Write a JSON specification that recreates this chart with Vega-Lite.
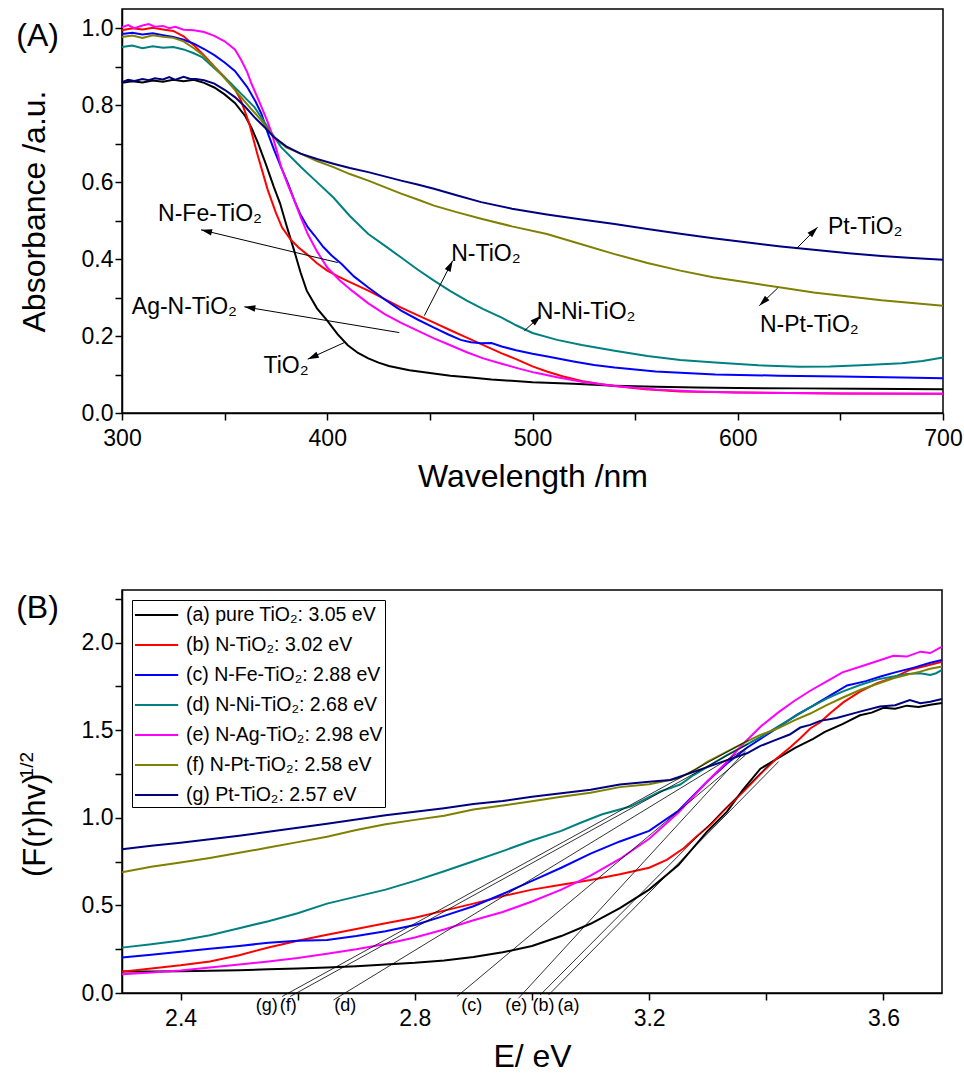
{
"$schema":"https://vega.github.io/schema/vega-lite/v6.json",
"padding":{"left":15,"top":8,"right":5,"bottom":5},
"config":{"font":"Liberation Sans","view":{"stroke":"black","strokeWidth":1.5},
"axis":{"domainColor":"black","tickColor":"black","labelColor":"black","titleColor":"black","grid":false,"labelFontSize":23,"titleFontSize":32,"titleFontWeight":"normal","tickSize":7,"domainWidth":1.5,"tickWidth":1.5,"labelFont":"Liberation Sans","titleFont":"Liberation Sans","labelOverlap":false,"labelFlush":false},
"text":{"font":"Liberation Sans","color":"black"}},
"spacing":94,
"resolve":{"scale":{"color":"independent"},"legend":{"color":"independent"}},
"datasets":{
"A":[
{"s":"TiO2","x":300,"y":0.858},{"s":"TiO2","x":305,"y":0.862},{"s":"TiO2","x":310,"y":0.859},{"s":"TiO2","x":315,"y":0.864},{"s":"TiO2","x":320,"y":0.861},{"s":"TiO2","x":325,"y":0.866},{"s":"TiO2","x":330,"y":0.862},{"s":"TiO2","x":335,"y":0.866},{"s":"TiO2","x":340,"y":0.858},{"s":"TiO2","x":345,"y":0.846},{"s":"TiO2","x":350,"y":0.828},{"s":"TiO2","x":355,"y":0.806},{"s":"TiO2","x":360,"y":0.772},{"s":"TiO2","x":363,"y":0.742},{"s":"TiO2","x":366,"y":0.705},{"s":"TiO2","x":370,"y":0.648},{"s":"TiO2","x":374,"y":0.587},{"s":"TiO2","x":377,"y":0.545},{"s":"TiO2","x":380,"y":0.49},{"s":"TiO2","x":384,"y":0.42},{"s":"TiO2","x":387,"y":0.365},{"s":"TiO2","x":390,"y":0.318},{"s":"TiO2","x":395,"y":0.272},{"s":"TiO2","x":400,"y":0.24},{"s":"TiO2","x":405,"y":0.205},{"s":"TiO2","x":410,"y":0.176},{"s":"TiO2","x":415,"y":0.156},{"s":"TiO2","x":420,"y":0.142},{"s":"TiO2","x":425,"y":0.131},{"s":"TiO2","x":430,"y":0.122},{"s":"TiO2","x":440,"y":0.111},{"s":"TiO2","x":450,"y":0.104},{"s":"TiO2","x":460,"y":0.097},{"s":"TiO2","x":470,"y":0.092},{"s":"TiO2","x":480,"y":0.087},{"s":"TiO2","x":500,"y":0.08},{"s":"TiO2","x":520,"y":0.076},{"s":"TiO2","x":540,"y":0.071},{"s":"TiO2","x":560,"y":0.068},{"s":"TiO2","x":580,"y":0.066},{"s":"TiO2","x":600,"y":0.065},{"s":"TiO2","x":630,"y":0.064},{"s":"TiO2","x":660,"y":0.063},{"s":"TiO2","x":700,"y":0.062},
{"s":"N-TiO2","x":300,"y":0.995},{"s":"N-TiO2","x":305,"y":1.0},{"s":"N-TiO2","x":310,"y":0.997},{"s":"N-TiO2","x":315,"y":1.001},{"s":"N-TiO2","x":320,"y":0.997},{"s":"N-TiO2","x":325,"y":0.993},{"s":"N-TiO2","x":330,"y":0.979},{"s":"N-TiO2","x":335,"y":0.956},{"s":"N-TiO2","x":340,"y":0.929},{"s":"N-TiO2","x":345,"y":0.9},{"s":"N-TiO2","x":350,"y":0.873},{"s":"N-TiO2","x":355,"y":0.842},{"s":"N-TiO2","x":358,"y":0.812},{"s":"N-TiO2","x":362,"y":0.752},{"s":"N-TiO2","x":366,"y":0.672},{"s":"N-TiO2","x":371,"y":0.58},{"s":"N-TiO2","x":375,"y":0.52},{"s":"N-TiO2","x":378,"y":0.482},{"s":"N-TiO2","x":382,"y":0.452},{"s":"N-TiO2","x":386,"y":0.43},{"s":"N-TiO2","x":390,"y":0.413},{"s":"N-TiO2","x":395,"y":0.389},{"s":"N-TiO2","x":400,"y":0.37},{"s":"N-TiO2","x":405,"y":0.356},{"s":"N-TiO2","x":410,"y":0.343},{"s":"N-TiO2","x":420,"y":0.318},{"s":"N-TiO2","x":428,"y":0.296},{"s":"N-TiO2","x":436,"y":0.274},{"s":"N-TiO2","x":445,"y":0.252},{"s":"N-TiO2","x":452,"y":0.235},{"s":"N-TiO2","x":460,"y":0.215},{"s":"N-TiO2","x":468,"y":0.196},{"s":"N-TiO2","x":475,"y":0.179},{"s":"N-TiO2","x":485,"y":0.155},{"s":"N-TiO2","x":492,"y":0.14},{"s":"N-TiO2","x":500,"y":0.121},{"s":"N-TiO2","x":507,"y":0.108},{"s":"N-TiO2","x":515,"y":0.095},{"s":"N-TiO2","x":524,"y":0.083},{"s":"N-TiO2","x":532,"y":0.076},{"s":"N-TiO2","x":540,"y":0.07},{"s":"N-TiO2","x":555,"y":0.062},{"s":"N-TiO2","x":572,"y":0.056},{"s":"N-TiO2","x":600,"y":0.053},{"s":"N-TiO2","x":650,"y":0.051},{"s":"N-TiO2","x":700,"y":0.05},
{"s":"N-Fe-TiO2","x":300,"y":0.985},{"s":"N-Fe-TiO2","x":305,"y":0.988},{"s":"N-Fe-TiO2","x":310,"y":0.984},{"s":"N-Fe-TiO2","x":315,"y":0.987},{"s":"N-Fe-TiO2","x":320,"y":0.982},{"s":"N-Fe-TiO2","x":325,"y":0.977},{"s":"N-Fe-TiO2","x":330,"y":0.97},{"s":"N-Fe-TiO2","x":335,"y":0.96},{"s":"N-Fe-TiO2","x":340,"y":0.946},{"s":"N-Fe-TiO2","x":345,"y":0.93},{"s":"N-Fe-TiO2","x":350,"y":0.911},{"s":"N-Fe-TiO2","x":355,"y":0.889},{"s":"N-Fe-TiO2","x":361,"y":0.847},{"s":"N-Fe-TiO2","x":365,"y":0.81},{"s":"N-Fe-TiO2","x":368,"y":0.777},{"s":"N-Fe-TiO2","x":371,"y":0.728},{"s":"N-Fe-TiO2","x":374,"y":0.685},{"s":"N-Fe-TiO2","x":377.5,"y":0.639},{"s":"N-Fe-TiO2","x":381,"y":0.595},{"s":"N-Fe-TiO2","x":384,"y":0.552},{"s":"N-Fe-TiO2","x":387,"y":0.515},{"s":"N-Fe-TiO2","x":390.5,"y":0.483},{"s":"N-Fe-TiO2","x":394,"y":0.46},{"s":"N-Fe-TiO2","x":398,"y":0.432},{"s":"N-Fe-TiO2","x":402,"y":0.41},{"s":"N-Fe-TiO2","x":407,"y":0.387},{"s":"N-Fe-TiO2","x":413,"y":0.355},{"s":"N-Fe-TiO2","x":420,"y":0.326},{"s":"N-Fe-TiO2","x":428,"y":0.295},{"s":"N-Fe-TiO2","x":436,"y":0.266},{"s":"N-Fe-TiO2","x":444,"y":0.243},{"s":"N-Fe-TiO2","x":452,"y":0.222},{"s":"N-Fe-TiO2","x":459,"y":0.204},{"s":"N-Fe-TiO2","x":465,"y":0.19},{"s":"N-Fe-TiO2","x":470,"y":0.184},{"s":"N-Fe-TiO2","x":475,"y":0.181},{"s":"N-Fe-TiO2","x":480,"y":0.182},{"s":"N-Fe-TiO2","x":485,"y":0.173},{"s":"N-Fe-TiO2","x":492,"y":0.163},{"s":"N-Fe-TiO2","x":500,"y":0.154},{"s":"N-Fe-TiO2","x":508,"y":0.146},{"s":"N-Fe-TiO2","x":520,"y":0.134},{"s":"N-Fe-TiO2","x":530,"y":0.125},{"s":"N-Fe-TiO2","x":540,"y":0.118},{"s":"N-Fe-TiO2","x":560,"y":0.108},{"s":"N-Fe-TiO2","x":589,"y":0.1},{"s":"N-Fe-TiO2","x":620,"y":0.097},{"s":"N-Fe-TiO2","x":650,"y":0.095},{"s":"N-Fe-TiO2","x":680,"y":0.092},{"s":"N-Fe-TiO2","x":700,"y":0.09},
{"s":"N-Ni-TiO2","x":300,"y":0.951},{"s":"N-Ni-TiO2","x":305,"y":0.955},{"s":"N-Ni-TiO2","x":310,"y":0.948},{"s":"N-Ni-TiO2","x":315,"y":0.953},{"s":"N-Ni-TiO2","x":320,"y":0.949},{"s":"N-Ni-TiO2","x":325,"y":0.951},{"s":"N-Ni-TiO2","x":330,"y":0.945},{"s":"N-Ni-TiO2","x":335,"y":0.935},{"s":"N-Ni-TiO2","x":339,"y":0.925},{"s":"N-Ni-TiO2","x":343,"y":0.906},{"s":"N-Ni-TiO2","x":348,"y":0.882},{"s":"N-Ni-TiO2","x":353,"y":0.857},{"s":"N-Ni-TiO2","x":358,"y":0.83},{"s":"N-Ni-TiO2","x":364.5,"y":0.795},{"s":"N-Ni-TiO2","x":371,"y":0.743},{"s":"N-Ni-TiO2","x":377.5,"y":0.691},{"s":"N-Ni-TiO2","x":387,"y":0.64},{"s":"N-Ni-TiO2","x":395,"y":0.6},{"s":"N-Ni-TiO2","x":403,"y":0.56},{"s":"N-Ni-TiO2","x":411,"y":0.512},{"s":"N-Ni-TiO2","x":420,"y":0.465},{"s":"N-Ni-TiO2","x":428,"y":0.435},{"s":"N-Ni-TiO2","x":436,"y":0.404},{"s":"N-Ni-TiO2","x":444,"y":0.373},{"s":"N-Ni-TiO2","x":452,"y":0.344},{"s":"N-Ni-TiO2","x":460,"y":0.317},{"s":"N-Ni-TiO2","x":468,"y":0.292},{"s":"N-Ni-TiO2","x":476,"y":0.27},{"s":"N-Ni-TiO2","x":485,"y":0.248},{"s":"N-Ni-TiO2","x":492,"y":0.228},{"s":"N-Ni-TiO2","x":500,"y":0.208},{"s":"N-Ni-TiO2","x":512,"y":0.19},{"s":"N-Ni-TiO2","x":524,"y":0.177},{"s":"N-Ni-TiO2","x":540,"y":0.162},{"s":"N-Ni-TiO2","x":556,"y":0.148},{"s":"N-Ni-TiO2","x":572,"y":0.138},{"s":"N-Ni-TiO2","x":589,"y":0.131},{"s":"N-Ni-TiO2","x":610,"y":0.124},{"s":"N-Ni-TiO2","x":630,"y":0.12},{"s":"N-Ni-TiO2","x":645,"y":0.121},{"s":"N-Ni-TiO2","x":660,"y":0.124},{"s":"N-Ni-TiO2","x":680,"y":0.129},{"s":"N-Ni-TiO2","x":690,"y":0.135},{"s":"N-Ni-TiO2","x":700,"y":0.144},
{"s":"Ag-N-TiO2","x":300,"y":1.003},{"s":"Ag-N-TiO2","x":303,"y":1.008},{"s":"Ag-N-TiO2","x":306,"y":1.0},{"s":"Ag-N-TiO2","x":310,"y":1.007},{"s":"Ag-N-TiO2","x":313,"y":1.011},{"s":"Ag-N-TiO2","x":316,"y":1.004},{"s":"Ag-N-TiO2","x":320,"y":1.006},{"s":"Ag-N-TiO2","x":323,"y":1.0},{"s":"Ag-N-TiO2","x":326,"y":1.004},{"s":"Ag-N-TiO2","x":330,"y":0.996},{"s":"Ag-N-TiO2","x":335,"y":0.995},{"s":"Ag-N-TiO2","x":340,"y":0.99},{"s":"Ag-N-TiO2","x":345,"y":0.98},{"s":"Ag-N-TiO2","x":350,"y":0.966},{"s":"Ag-N-TiO2","x":355,"y":0.945},{"s":"Ag-N-TiO2","x":358,"y":0.918},{"s":"Ag-N-TiO2","x":361,"y":0.886},{"s":"Ag-N-TiO2","x":363,"y":0.857},{"s":"Ag-N-TiO2","x":366,"y":0.82},{"s":"Ag-N-TiO2","x":368,"y":0.795},{"s":"Ag-N-TiO2","x":371,"y":0.756},{"s":"Ag-N-TiO2","x":373,"y":0.726},{"s":"Ag-N-TiO2","x":375.5,"y":0.68},{"s":"Ag-N-TiO2","x":377.5,"y":0.64},{"s":"Ag-N-TiO2","x":381,"y":0.59},{"s":"Ag-N-TiO2","x":384,"y":0.552},{"s":"Ag-N-TiO2","x":387,"y":0.51},{"s":"Ag-N-TiO2","x":390.5,"y":0.465},{"s":"Ag-N-TiO2","x":395,"y":0.42},{"s":"Ag-N-TiO2","x":400,"y":0.378},{"s":"Ag-N-TiO2","x":406,"y":0.345},{"s":"Ag-N-TiO2","x":412,"y":0.318},{"s":"Ag-N-TiO2","x":420,"y":0.285},{"s":"Ag-N-TiO2","x":428,"y":0.257},{"s":"Ag-N-TiO2","x":436,"y":0.234},{"s":"Ag-N-TiO2","x":444,"y":0.214},{"s":"Ag-N-TiO2","x":452,"y":0.194},{"s":"Ag-N-TiO2","x":460,"y":0.176},{"s":"Ag-N-TiO2","x":468,"y":0.158},{"s":"Ag-N-TiO2","x":476,"y":0.142},{"s":"Ag-N-TiO2","x":485,"y":0.128},{"s":"Ag-N-TiO2","x":493,"y":0.116},{"s":"Ag-N-TiO2","x":501,"y":0.105},{"s":"Ag-N-TiO2","x":512,"y":0.093},{"s":"Ag-N-TiO2","x":524,"y":0.081},{"s":"Ag-N-TiO2","x":540,"y":0.07},{"s":"Ag-N-TiO2","x":560,"y":0.061},{"s":"Ag-N-TiO2","x":580,"y":0.056},{"s":"Ag-N-TiO2","x":600,"y":0.053},{"s":"Ag-N-TiO2","x":650,"y":0.051},{"s":"Ag-N-TiO2","x":700,"y":0.05},
{"s":"N-Pt-TiO2","x":300,"y":0.977},{"s":"N-Pt-TiO2","x":305,"y":0.981},{"s":"N-Pt-TiO2","x":310,"y":0.975},{"s":"N-Pt-TiO2","x":315,"y":0.982},{"s":"N-Pt-TiO2","x":320,"y":0.978},{"s":"N-Pt-TiO2","x":325,"y":0.975},{"s":"N-Pt-TiO2","x":330,"y":0.966},{"s":"N-Pt-TiO2","x":335,"y":0.948},{"s":"N-Pt-TiO2","x":339,"y":0.932},{"s":"N-Pt-TiO2","x":343,"y":0.91},{"s":"N-Pt-TiO2","x":348,"y":0.882},{"s":"N-Pt-TiO2","x":353,"y":0.852},{"s":"N-Pt-TiO2","x":358,"y":0.821},{"s":"N-Pt-TiO2","x":363,"y":0.79},{"s":"N-Pt-TiO2","x":368,"y":0.76},{"s":"N-Pt-TiO2","x":374,"y":0.717},{"s":"N-Pt-TiO2","x":380,"y":0.69},{"s":"N-Pt-TiO2","x":387,"y":0.674},{"s":"N-Pt-TiO2","x":395,"y":0.655},{"s":"N-Pt-TiO2","x":403,"y":0.639},{"s":"N-Pt-TiO2","x":411,"y":0.621},{"s":"N-Pt-TiO2","x":420,"y":0.604},{"s":"N-Pt-TiO2","x":428,"y":0.587},{"s":"N-Pt-TiO2","x":436,"y":0.57},{"s":"N-Pt-TiO2","x":444,"y":0.555},{"s":"N-Pt-TiO2","x":452,"y":0.539},{"s":"N-Pt-TiO2","x":463,"y":0.522},{"s":"N-Pt-TiO2","x":475,"y":0.505},{"s":"N-Pt-TiO2","x":490,"y":0.485},{"s":"N-Pt-TiO2","x":507,"y":0.465},{"s":"N-Pt-TiO2","x":523,"y":0.44},{"s":"N-Pt-TiO2","x":540,"y":0.413},{"s":"N-Pt-TiO2","x":556,"y":0.39},{"s":"N-Pt-TiO2","x":572,"y":0.37},{"s":"N-Pt-TiO2","x":588,"y":0.353},{"s":"N-Pt-TiO2","x":605,"y":0.339},{"s":"N-Pt-TiO2","x":621,"y":0.326},{"s":"N-Pt-TiO2","x":637,"y":0.313},{"s":"N-Pt-TiO2","x":654,"y":0.303},{"s":"N-Pt-TiO2","x":670,"y":0.293},{"s":"N-Pt-TiO2","x":685,"y":0.286},{"s":"N-Pt-TiO2","x":700,"y":0.279},
{"s":"Pt-TiO2","x":300,"y":0.86},{"s":"Pt-TiO2","x":303,"y":0.866},{"s":"Pt-TiO2","x":306,"y":0.863},{"s":"Pt-TiO2","x":310,"y":0.868},{"s":"Pt-TiO2","x":313,"y":0.865},{"s":"Pt-TiO2","x":316,"y":0.87},{"s":"Pt-TiO2","x":320,"y":0.867},{"s":"Pt-TiO2","x":323,"y":0.873},{"s":"Pt-TiO2","x":326,"y":0.866},{"s":"Pt-TiO2","x":330,"y":0.874},{"s":"Pt-TiO2","x":333,"y":0.869},{"s":"Pt-TiO2","x":336,"y":0.868},{"s":"Pt-TiO2","x":340,"y":0.865},{"s":"Pt-TiO2","x":345,"y":0.856},{"s":"Pt-TiO2","x":350,"y":0.84},{"s":"Pt-TiO2","x":355,"y":0.821},{"s":"Pt-TiO2","x":360,"y":0.796},{"s":"Pt-TiO2","x":364.5,"y":0.769},{"s":"Pt-TiO2","x":370,"y":0.74},{"s":"Pt-TiO2","x":374,"y":0.717},{"s":"Pt-TiO2","x":380,"y":0.693},{"s":"Pt-TiO2","x":387,"y":0.674},{"s":"Pt-TiO2","x":395,"y":0.66},{"s":"Pt-TiO2","x":403,"y":0.648},{"s":"Pt-TiO2","x":411,"y":0.637},{"s":"Pt-TiO2","x":420,"y":0.626},{"s":"Pt-TiO2","x":428,"y":0.615},{"s":"Pt-TiO2","x":436,"y":0.604},{"s":"Pt-TiO2","x":444,"y":0.594},{"s":"Pt-TiO2","x":452,"y":0.583},{"s":"Pt-TiO2","x":463,"y":0.566},{"s":"Pt-TiO2","x":475,"y":0.548},{"s":"Pt-TiO2","x":490,"y":0.531},{"s":"Pt-TiO2","x":507,"y":0.516},{"s":"Pt-TiO2","x":524,"y":0.503},{"s":"Pt-TiO2","x":540,"y":0.491},{"s":"Pt-TiO2","x":556,"y":0.478},{"s":"Pt-TiO2","x":572,"y":0.466},{"s":"Pt-TiO2","x":588,"y":0.454},{"s":"Pt-TiO2","x":605,"y":0.443},{"s":"Pt-TiO2","x":621,"y":0.433},{"s":"Pt-TiO2","x":637,"y":0.424},{"s":"Pt-TiO2","x":654,"y":0.415},{"s":"Pt-TiO2","x":670,"y":0.408},{"s":"Pt-TiO2","x":685,"y":0.403},{"s":"Pt-TiO2","x":700,"y":0.398}
],
"arrowsA":[
{"x":338.5,"y":0.476,"x2":405.1,"y2":0.391,"a":283},
{"x":359.6,"y":0.276,"x2":435.1,"y2":0.209,"a":279},
{"x":390.5,"y":0.14,"x2":408.3,"y2":0.183,"a":246},
{"x":461.1,"y":0.396,"x2":447.3,"y2":0.253,"a":27},
{"x":504.1,"y":0.253,"x2":496,"y2":0.2135,"a":48},
{"x":638.9,"y":0.483,"x2":628.4,"y2":0.426,"a":45},
{"x":610.5,"y":0.279,"x2":619.5,"y2":0.325,"a":226}
],
"labelsA":[
{"t":"N-Fe-TiO₂","x":342.9,"y":0.5},
{"t":"Ag-N-TiO₂","x":330.4,"y":0.257},
{"t":"TiO₂","x":379.9,"y":0.105},
{"t":"N-TiO₂","x":477.3,"y":0.396},
{"t":"N-Ni-TiO₂","x":526.1,"y":0.244},
{"t":"Pt-TiO₂","x":662.1,"y":0.465},
{"t":"N-Pt-TiO₂","x":634.9,"y":0.211}
],
"B":[
{"s":"a","x":2.3,"y":0.122},{"s":"a","x":2.35,"y":0.123},{"s":"a","x":2.4,"y":0.124},{"s":"a","x":2.45,"y":0.127},{"s":"a","x":2.5,"y":0.13},{"s":"a","x":2.55,"y":0.135},{"s":"a","x":2.6,"y":0.14},{"s":"a","x":2.65,"y":0.146},{"s":"a","x":2.7,"y":0.153},{"s":"a","x":2.75,"y":0.162},{"s":"a","x":2.8,"y":0.172},{"s":"a","x":2.85,"y":0.186},{"s":"a","x":2.9,"y":0.205},{"s":"a","x":2.95,"y":0.232},{"s":"a","x":3.0,"y":0.268},{"s":"a","x":3.05,"y":0.325},{"s":"a","x":3.1,"y":0.395},{"s":"a","x":3.15,"y":0.485},{"s":"a","x":3.2,"y":0.59},{"s":"a","x":3.25,"y":0.73},{"s":"a","x":3.3,"y":0.925},{"s":"a","x":3.333,"y":1.035},{"s":"a","x":3.36,"y":1.16},{"s":"a","x":3.39,"y":1.28},{"s":"a","x":3.42,"y":1.34},{"s":"a","x":3.45,"y":1.4},{"s":"a","x":3.48,"y":1.45},{"s":"a","x":3.5,"y":1.49},{"s":"a","x":3.53,"y":1.535},{"s":"a","x":3.56,"y":1.585},{"s":"a","x":3.58,"y":1.6},{"s":"a","x":3.6,"y":1.628},{"s":"a","x":3.62,"y":1.622},{"s":"a","x":3.64,"y":1.64},{"s":"a","x":3.66,"y":1.632},{"s":"a","x":3.68,"y":1.645},{"s":"a","x":3.7,"y":1.655},
{"s":"b","x":2.3,"y":0.122},{"s":"b","x":2.35,"y":0.14},{"s":"b","x":2.4,"y":0.158},{"s":"b","x":2.45,"y":0.18},{"s":"b","x":2.5,"y":0.215},{"s":"b","x":2.55,"y":0.26},{"s":"b","x":2.6,"y":0.298},{"s":"b","x":2.65,"y":0.332},{"s":"b","x":2.7,"y":0.365},{"s":"b","x":2.75,"y":0.398},{"s":"b","x":2.8,"y":0.43},{"s":"b","x":2.85,"y":0.47},{"s":"b","x":2.9,"y":0.51},{"s":"b","x":2.95,"y":0.553},{"s":"b","x":3.0,"y":0.59},{"s":"b","x":3.05,"y":0.618},{"s":"b","x":3.1,"y":0.645},{"s":"b","x":3.15,"y":0.678},{"s":"b","x":3.2,"y":0.715},{"s":"b","x":3.23,"y":0.76},{"s":"b","x":3.259,"y":0.826},{"s":"b","x":3.28,"y":0.89},{"s":"b","x":3.304,"y":0.959},{"s":"b","x":3.33,"y":1.05},{"s":"b","x":3.361,"y":1.15},{"s":"b","x":3.39,"y":1.25},{"s":"b","x":3.418,"y":1.34},{"s":"b","x":3.44,"y":1.4},{"s":"b","x":3.458,"y":1.454},{"s":"b","x":3.475,"y":1.51},{"s":"b","x":3.492,"y":1.545},{"s":"b","x":3.51,"y":1.6},{"s":"b","x":3.532,"y":1.66},{"s":"b","x":3.56,"y":1.72},{"s":"b","x":3.589,"y":1.768},{"s":"b","x":3.617,"y":1.8},{"s":"b","x":3.645,"y":1.844},{"s":"b","x":3.67,"y":1.865},{"s":"b","x":3.7,"y":1.89},
{"s":"c","x":2.3,"y":0.202},{"s":"c","x":2.35,"y":0.218},{"s":"c","x":2.4,"y":0.235},{"s":"c","x":2.45,"y":0.252},{"s":"c","x":2.5,"y":0.268},{"s":"c","x":2.55,"y":0.287},{"s":"c","x":2.6,"y":0.298},{"s":"c","x":2.65,"y":0.303},{"s":"c","x":2.7,"y":0.325},{"s":"c","x":2.75,"y":0.352},{"s":"c","x":2.8,"y":0.388},{"s":"c","x":2.85,"y":0.44},{"s":"c","x":2.9,"y":0.495},{"s":"c","x":2.95,"y":0.565},{"s":"c","x":3.0,"y":0.64},{"s":"c","x":3.05,"y":0.715},{"s":"c","x":3.1,"y":0.795},{"s":"c","x":3.15,"y":0.865},{"s":"c","x":3.2,"y":0.925},{"s":"c","x":3.25,"y":1.04},{"s":"c","x":3.3,"y":1.21},{"s":"c","x":3.333,"y":1.31},{"s":"c","x":3.367,"y":1.4},{"s":"c","x":3.413,"y":1.5},{"s":"c","x":3.452,"y":1.587},{"s":"c","x":3.48,"y":1.64},{"s":"c","x":3.51,"y":1.7},{"s":"c","x":3.538,"y":1.755},{"s":"c","x":3.57,"y":1.78},{"s":"c","x":3.595,"y":1.806},{"s":"c","x":3.62,"y":1.83},{"s":"c","x":3.652,"y":1.857},{"s":"c","x":3.68,"y":1.885},{"s":"c","x":3.7,"y":1.9},
{"s":"d","x":2.3,"y":0.259},{"s":"d","x":2.35,"y":0.278},{"s":"d","x":2.4,"y":0.3},{"s":"d","x":2.45,"y":0.33},{"s":"d","x":2.5,"y":0.37},{"s":"d","x":2.55,"y":0.41},{"s":"d","x":2.6,"y":0.455},{"s":"d","x":2.65,"y":0.51},{"s":"d","x":2.7,"y":0.55},{"s":"d","x":2.75,"y":0.59},{"s":"d","x":2.8,"y":0.64},{"s":"d","x":2.85,"y":0.695},{"s":"d","x":2.9,"y":0.752},{"s":"d","x":2.95,"y":0.81},{"s":"d","x":3.0,"y":0.87},{"s":"d","x":3.05,"y":0.925},{"s":"d","x":3.082,"y":0.97},{"s":"d","x":3.12,"y":1.02},{"s":"d","x":3.168,"y":1.064},{"s":"d","x":3.219,"y":1.15},{"s":"d","x":3.253,"y":1.19},{"s":"d","x":3.276,"y":1.244},{"s":"d","x":3.333,"y":1.358},{"s":"d","x":3.39,"y":1.46},{"s":"d","x":3.447,"y":1.575},{"s":"d","x":3.475,"y":1.63},{"s":"d","x":3.504,"y":1.682},{"s":"d","x":3.53,"y":1.72},{"s":"d","x":3.56,"y":1.758},{"s":"d","x":3.59,"y":1.79},{"s":"d","x":3.617,"y":1.806},{"s":"d","x":3.64,"y":1.82},{"s":"d","x":3.663,"y":1.825},{"s":"d","x":3.68,"y":1.815},{"s":"d","x":3.69,"y":1.825},{"s":"d","x":3.7,"y":1.844},
{"s":"e","x":2.3,"y":0.107},{"s":"e","x":2.35,"y":0.117},{"s":"e","x":2.4,"y":0.129},{"s":"e","x":2.45,"y":0.145},{"s":"e","x":2.5,"y":0.162},{"s":"e","x":2.55,"y":0.18},{"s":"e","x":2.6,"y":0.2},{"s":"e","x":2.65,"y":0.224},{"s":"e","x":2.7,"y":0.25},{"s":"e","x":2.75,"y":0.28},{"s":"e","x":2.8,"y":0.317},{"s":"e","x":2.85,"y":0.362},{"s":"e","x":2.9,"y":0.415},{"s":"e","x":2.95,"y":0.462},{"s":"e","x":3.0,"y":0.522},{"s":"e","x":3.05,"y":0.59},{"s":"e","x":3.1,"y":0.67},{"s":"e","x":3.15,"y":0.765},{"s":"e","x":3.2,"y":0.88},{"s":"e","x":3.25,"y":1.03},{"s":"e","x":3.3,"y":1.21},{"s":"e","x":3.333,"y":1.32},{"s":"e","x":3.36,"y":1.42},{"s":"e","x":3.39,"y":1.52},{"s":"e","x":3.42,"y":1.6},{"s":"e","x":3.447,"y":1.665},{"s":"e","x":3.475,"y":1.725},{"s":"e","x":3.504,"y":1.78},{"s":"e","x":3.53,"y":1.83},{"s":"e","x":3.56,"y":1.862},{"s":"e","x":3.59,"y":1.895},{"s":"e","x":3.617,"y":1.925},{"s":"e","x":3.64,"y":1.92},{"s":"e","x":3.663,"y":1.948},{"s":"e","x":3.68,"y":1.94},{"s":"e","x":3.7,"y":1.977},
{"s":"f","x":2.3,"y":0.689},{"s":"f","x":2.35,"y":0.72},{"s":"f","x":2.4,"y":0.745},{"s":"f","x":2.45,"y":0.771},{"s":"f","x":2.5,"y":0.8},{"s":"f","x":2.55,"y":0.83},{"s":"f","x":2.6,"y":0.861},{"s":"f","x":2.65,"y":0.892},{"s":"f","x":2.7,"y":0.93},{"s":"f","x":2.75,"y":0.963},{"s":"f","x":2.8,"y":0.988},{"s":"f","x":2.85,"y":1.012},{"s":"f","x":2.9,"y":1.047},{"s":"f","x":2.95,"y":1.07},{"s":"f","x":3.0,"y":1.095},{"s":"f","x":3.05,"y":1.12},{"s":"f","x":3.1,"y":1.143},{"s":"f","x":3.15,"y":1.175},{"s":"f","x":3.2,"y":1.192},{"s":"f","x":3.25,"y":1.225},{"s":"f","x":3.276,"y":1.27},{"s":"f","x":3.3,"y":1.32},{"s":"f","x":3.333,"y":1.378},{"s":"f","x":3.36,"y":1.425},{"s":"f","x":3.39,"y":1.473},{"s":"f","x":3.42,"y":1.51},{"s":"f","x":3.447,"y":1.555},{"s":"f","x":3.475,"y":1.595},{"s":"f","x":3.504,"y":1.644},{"s":"f","x":3.53,"y":1.685},{"s":"f","x":3.56,"y":1.729},{"s":"f","x":3.59,"y":1.765},{"s":"f","x":3.617,"y":1.796},{"s":"f","x":3.645,"y":1.82},{"s":"f","x":3.663,"y":1.834},{"s":"f","x":3.68,"y":1.85},{"s":"f","x":3.7,"y":1.863},
{"s":"g","x":2.3,"y":0.82},{"s":"g","x":2.35,"y":0.84},{"s":"g","x":2.4,"y":0.858},{"s":"g","x":2.45,"y":0.877},{"s":"g","x":2.5,"y":0.897},{"s":"g","x":2.55,"y":0.92},{"s":"g","x":2.6,"y":0.943},{"s":"g","x":2.65,"y":0.966},{"s":"g","x":2.7,"y":0.99},{"s":"g","x":2.75,"y":1.014},{"s":"g","x":2.8,"y":1.035},{"s":"g","x":2.85,"y":1.055},{"s":"g","x":2.9,"y":1.078},{"s":"g","x":2.95,"y":1.096},{"s":"g","x":3.0,"y":1.12},{"s":"g","x":3.05,"y":1.14},{"s":"g","x":3.1,"y":1.16},{"s":"g","x":3.15,"y":1.19},{"s":"g","x":3.2,"y":1.205},{"s":"g","x":3.236,"y":1.216},{"s":"g","x":3.276,"y":1.262},{"s":"g","x":3.321,"y":1.315},{"s":"g","x":3.367,"y":1.368},{"s":"g","x":3.39,"y":1.41},{"s":"g","x":3.413,"y":1.44},{"s":"g","x":3.44,"y":1.475},{"s":"g","x":3.458,"y":1.515},{"s":"g","x":3.475,"y":1.53},{"s":"g","x":3.492,"y":1.553},{"s":"g","x":3.52,"y":1.57},{"s":"g","x":3.56,"y":1.606},{"s":"g","x":3.594,"y":1.635},{"s":"g","x":3.62,"y":1.642},{"s":"g","x":3.645,"y":1.672},{"s":"g","x":3.663,"y":1.654},{"s":"g","x":3.68,"y":1.662},{"s":"g","x":3.7,"y":1.678}
],
"tangents":[
{"k":"g","x":2.5734,"y":-0.02},{"k":"g","x":3.3693,"y":1.4424},
{"k":"f","x":2.5871,"y":-0.02},{"k":"f","x":3.3693,"y":1.4224},
{"k":"d","x":2.6611,"y":-0.04},{"k":"d","x":3.3693,"y":1.405},
{"k":"c","x":2.8718,"y":-0.02},{"k":"c","x":3.3642,"y":1.357},
{"k":"e","x":2.977,"y":-0.03},{"k":"e","x":3.3642,"y":1.38},
{"k":"b","x":3.0141,"y":-0.011},{"k":"b","x":3.4103,"y":1.3225},
{"k":"a","x":3.0283,"y":-0.011},{"k":"a","x":3.4211,"y":1.3208}
],
"tanLabels":[
{"t":"(g)","x":2.547,"y":-0.076},{"t":"(f)","x":2.584,"y":-0.076},{"t":"(d)","x":2.681,"y":-0.076},{"t":"(c)","x":2.897,"y":-0.076},{"t":"(e)","x":2.973,"y":-0.076},{"t":"(b)","x":3.0197,"y":-0.076},{"t":"(a)","x":3.0624,"y":-0.076}
]
},
"vconcat":[
{
"width":821,"height":404,
"encoding":{
"x":{"field":"x","type":"quantitative","scale":{"domain":[300,700],"nice":false,"zero":false},
"axis":{"title":"Wavelength /nm","values":[300,350,400,450,500,550,600,650,700],"labelExpr":"datum.value % 100 == 0 ? datum.label : ''","labelPadding":7,"titlePadding":11}},
"y":{"field":"y","type":"quantitative","scale":{"domain":[0,1.05],"nice":false,"zero":false},
"axis":{"title":"Absorbance /a.u.","values":[0,0.1,0.2,0.3,0.4,0.5,0.6,0.7,0.8,0.9,1.0],"labelExpr":"round(datum.value*10) % 2 == 0 ? format(datum.value, '.1f') : ''","labelPadding":2,"titlePadding":30}}
},
"layer":[
{"data":{"name":"A"},"mark":{"type":"line","strokeWidth":2},
"encoding":{"color":{"field":"s","type":"nominal","scale":{"domain":["TiO2","N-TiO2","N-Fe-TiO2","N-Ni-TiO2","Ag-N-TiO2","N-Pt-TiO2","Pt-TiO2"],"range":["#000000","#ff0000","#0000ff","#008080","#ff00ff","#808000","#000080"]},"legend":null}}},
{"data":{"name":"arrowsA"},"mark":{"type":"rule","color":"black","strokeWidth":1},
"encoding":{"x2":{"field":"x2"},"y2":{"field":"y2"}}},
{"data":{"name":"arrowsA"},"mark":{"type":"point","shape":"M0,0L0.65,2.2L-0.65,2.2Z","filled":true,"color":"black","size":100,"opacity":1},
"encoding":{"angle":{"field":"a","type":"quantitative","scale":null}}},
{"data":{"name":"labelsA"},"mark":{"type":"text","fontSize":23,"align":"center","baseline":"alphabetic"},
"encoding":{"text":{"field":"t"}}},
{"data":{"values":[{"t":"(A)","x":258.9,"y":0.979}]},"mark":{"type":"text","fontSize":32,"align":"center","baseline":"middle"},
"encoding":{"text":{"field":"t"}}}
]
},
{
"width":820,"height":403,
"encoding":{
"x":{"field":"x","type":"quantitative","scale":{"domain":[2.3,3.7],"nice":false,"zero":false},
"axis":{"title":"E/ eV","values":[2.4,2.6,2.8,3.0,3.2,3.4,3.6],"labelExpr":"abs(round(datum.value*10) % 4) == 0 ? format(datum.value, '.1f') : ''","labelPadding":7,"titlePadding":11}},
"y":{"field":"y","type":"quantitative","scale":{"domain":[0,2.3],"nice":false,"zero":false},
"axis":{"title":null,"values":[0,0.25,0.5,0.75,1.0,1.25,1.5,1.75,2.0,2.25],"labelExpr":"round(datum.value*2) == datum.value*2 ? format(datum.value, '.1f') : ''","labelPadding":2}}
},
"layer":[
{"data":{"name":"B"},"mark":{"type":"line","strokeWidth":2},
"encoding":{"color":{"field":"s","type":"nominal","scale":{"domain":["a","b","c","d","e","f","g"],"range":["#000000","#ff0000","#0000ff","#008080","#ff00ff","#808000","#000080"]},
"legend":{"title":null,"orient":"top-left","offset":10,"symbolType":"M-1,0H2.6","symbolSize":576,"symbolStrokeWidth":2,"labelFontSize":19.5,"labelFont":"Liberation Sans","labelColor":"black","padding":2,"rowPadding":7,"labelOffset":26,"strokeColor":"black","fillColor":"white","labelLimit":400,
"labelExpr":"{'a':'(a) pure TiO₂: 3.05 eV','b':'(b) N-TiO₂: 3.02 eV','c':'(c) N-Fe-TiO₂: 2.88 eV','d':'(d) N-Ni-TiO₂: 2.68 eV','e':'(e) N-Ag-TiO₂: 2.98 eV','f':'(f) N-Pt-TiO₂: 2.58 eV','g':'(g) Pt-TiO₂: 2.57 eV'}[datum.label]"}}}},
{"data":{"name":"tangents"},"mark":{"type":"line","color":"black","strokeWidth":0.8},
"encoding":{"detail":{"field":"k"}}},
{"data":{"name":"tanLabels"},"mark":{"type":"text","fontSize":18,"align":"center","baseline":"middle"},
"encoding":{"text":{"field":"t"}}},
{"data":{"values":[{"t":"(B)","x":2.1558,"y":2.2}]},"mark":{"type":"text","fontSize":32,"align":"center","baseline":"middle"},
"encoding":{"text":{"field":"t"}}},
{"data":{"values":[{"t":"(F(r)hv)","x":2.1533,"y":0.957}]},"mark":{"type":"text","fontSize":31,"align":"center","baseline":"middle","angle":270},
"encoding":{"text":{"field":"t"}}},
{"data":{"values":[{"t":"1/2","x":2.1379,"y":1.3}]},"mark":{"type":"text","fontSize":19,"align":"center","baseline":"middle","angle":270},
"encoding":{"text":{"field":"t"}}}
]
}
]
}
